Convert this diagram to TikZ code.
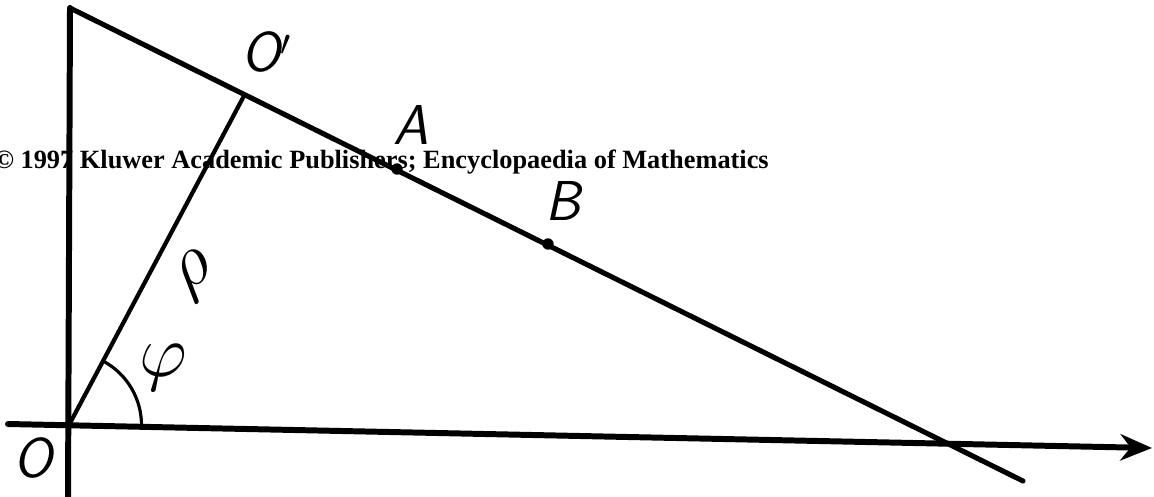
\documentclass[tikz,border=0pt]{standalone}
\usepackage{amsmath,amssymb}
\usepackage{fontspec}
\newfontfamily\notefont{Liberation Serif}
\usepackage{tikz}
\usetikzlibrary{arrows.meta, calc, angles}

\tikzset{
	axis/.style={line width=3.4pt, line cap=round},
	line/.style={line width=2.9pt, line cap=round},
	lbl/.style={font=\fontsize{32}{36}\selectfont\sffamily\itshape, inner sep=0pt},
	glbl/.style={font=\Huge, scale=1.7, inner sep=0pt},
	pt/.style={circle, fill, inner sep=0pt, minimum size=6.5pt}
}

\begin{document}
\begin{tikzpicture}[x=0.02cm, y=-0.02cm]
	\useasboundingbox (0,0) rectangle (1154,497);
	% points
	\coordinate (O) at (69,425);
	\coordinate (Op) at (245,94);
	\coordinate (ytop) at (70,8);
	\coordinate (ybot) at (68,500);
	\coordinate (xs) at (8,424);
	\coordinate (xe) at (1152,448);
	\coordinate (le) at (1023,481);
	\node [pt] (A) at (397,169) {};
	\node [pt] (B) at (548,244) {};
	% axes and lines
	\draw [axis] (ybot) -- (ytop);
	\draw [axis, -{Stealth[length=18pt, width=15pt]}] (xs) -- (xe);
	\draw [line] (ytop) -- (le);
	\draw [line width=2.4pt] (O) -- (Op);
	\pic [draw, line width=1.8pt, angle radius=1.45cm] {angle = xe--O--Op};
	% labels
	\node [lbl] (lO) at (33,458) {O};
	\node [lbl] (lOp) at (266,52) {O$'$};
	\node [lbl] (lA) at (411,125) {A};
	\node [lbl] (lB) at (563,201) {B};
	\node [glbl, rotate=35] (lrho) at (196,276) {$\rho$};
	\node [glbl] (lphi) at (163,368) {$\varphi$};
	\node [anchor=base west, inner sep=0pt, font=\notefont\bfseries\fontsize{15}{18}\selectfont] (note) at (-6,168) {\textcopyright{} 1997 Kluwer Academic Publishers; Encyclopaedia of Mathematics};
\end{tikzpicture}
\end{document}
